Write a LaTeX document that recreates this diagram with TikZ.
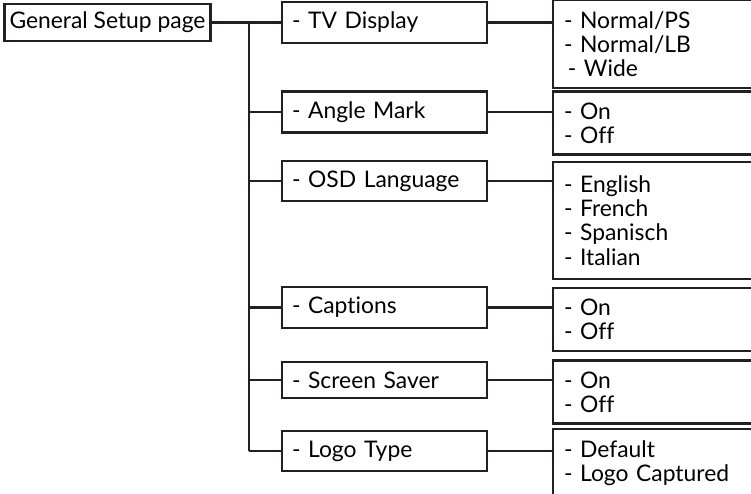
\documentclass[tikz,border=0pt]{standalone}
\usepackage{fontspec}
\setmainfont{Lato}[Ligatures=NoCommon]
\usepackage{tikz}
\usetikzlibrary{positioning,calc}
\definecolor{ink}{rgb}{0.14,0.12,0.13}

\begin{document}
\begin{tikzpicture}[every node/.style={font=\fontsize{13}{13.8}\selectfont}]
\tikzstyle{mb}=[draw=ink,line width=1.2pt,minimum height=7.2mm,inner sep=2mm,text width=3.7cm,align=left]
\tikzstyle{rb}=[draw=ink,line width=1.2pt,inner sep=2.2mm,text width=3.9cm,align=left]
\tikzstyle{ln}=[draw=ink,line width=1.2pt]
\useasboundingbox (0,0) rectangle (15.02,-9.88);
\clip (0,0) rectangle (15.02,-9.88);

\node[draw=ink,line width=1.2pt,minimum height=7.4mm,minimum width=3.98cm,inner sep=1mm] (root) at (2.15,-0.45) {General Setup page};

\node[mb] (tv) at (7.69,-0.45) {- TV Display};
\node[mb] (angle) at (7.69,-2.24) {- Angle Mark};
\node[mb] (osd) at (7.69,-3.62) {- OSD Language};
\node[mb] (capt) at (7.69,-6.15) {- Captions};
\node[mb] (saver) at (7.69,-7.60) {- Screen Saver};
\node[mb] (logo) at (7.69,-9.02) {- Logo Type};

\node[rb,minimum height=15.6mm] (r1) at (13.23,-0.88) {- Normal/PS\\- Normal/LB\\\,- Wide};
\node[rb,minimum height=12mm] (r2) at (13.23,-2.46) {- On\\- Off};
\node[rb,minimum height=23.4mm] (r3) at (13.23,-4.41) {- English\\- French\\- Spanisch\\- Italian};
\node[rb,minimum height=12.6mm] (r4) at (13.23,-6.39) {- On\\- Off};
\node[rb,minimum height=12.4mm] (r5) at (13.23,-7.84) {- On\\- Off};
\node[rb,minimum height=12mm] (r6) at (13.23,-9.26) {- Default\\- Logo Captured};

\coordinate (trunk) at (4.98,-0.45);
\draw[ln] (root) -- (tv);
\draw[ln] (trunk) -- (trunk |- logo.west);
\draw[ln] (trunk |- angle.west) -- (angle);
\draw[ln] (trunk |- osd.west) -- (osd);
\draw[ln] (trunk |- capt.west) -- (capt);
\draw[ln] (trunk |- saver.west) -- (saver);
\draw[ln] (trunk |- logo.west) -- (logo);

\draw[ln] (tv.east) -- (tv.east -| r1.west);
\draw[ln] (angle.east) -- (angle.east -| r2.west);
\draw[ln] (osd.east) -- (osd.east -| r3.west);
\draw[ln] (capt.east) -- (capt.east -| r4.west);
\draw[ln] (saver.east) -- (saver.east -| r5.west);
\draw[ln] (logo.east) -- (logo.east -| r6.west);
\end{tikzpicture}
\end{document}
